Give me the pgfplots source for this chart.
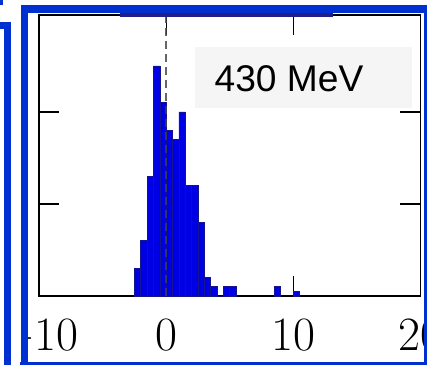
\documentclass[border=0pt]{standalone}
\usepackage{fontspec}
\usepackage{pgfplots}
\pgfplotsset{compat=1.18}
\newfontfamily\arialfont{Liberation Sans}
\definecolor{frameblue}{RGB}{0,48,208}
\definecolor{histblue}{RGB}{0,0,228}
\definecolor{histedge}{RGB}{20,20,140}
\definecolor{navyband}{RGB}{30,30,140}
\begin{document}
\begin{tikzpicture}[x=1bp,y=1bp]
\useasboundingbox (0,0) rectangle (427,365);
\clip (0,0) rectangle (427,365);
\begin{scope}
\clip (28,3) rectangle (424,352.3);
\begin{axis}[
  at={(39bp,69bp)}, anchor=south west,
  scale only axis, width=381.5bp, height=281bp,
  xmin=-10, xmax=20, ymin=0, ymax=30.54,
  xtick={-10,0,10,20}, xticklabels={−10,0,10,20},
  ytick={10,20}, yticklabels={},
  tick align=inside, major tick length=20bp,
  tick style={black, line width=1.3bp},
  axis line style={black, line width=1.3bp},
  xticklabel style={font=\fontsize{48}{50}\selectfont, anchor=base, yshift=-54bp},
]
\addplot[ybar interval, fill=histblue, draw=histedge, line width=0.6bp] coordinates {
(-2.5,3) (-2,6) (-1.5,13) (-1,25) (-0.5,21) (0,18) (0.5,17) (1,20) (1.5,12) (2,12) (2.5,8) (3,2) (3.5,1) (4,0) (4.5,1) (5,1) (5.5,0)};
\addplot[ybar interval, fill=histblue, draw=histedge, line width=0.6bp] coordinates {(8.5,1) (9,0)};
\addplot[ybar interval, fill=histblue, draw=histedge, line width=0.6bp] coordinates {(10,0.5) (10.5,0)};
\draw[black!75, opacity=0.8, dash pattern=on 8bp off 5bp, line width=1.4bp] (axis cs:0,0) -- (axis cs:0,30.54);
\end{axis}
\end{scope}
% label box
\fill[black!4] (195,257) rectangle (412,318);
\node[font=\arialfont\fontsize{37.3}{40}\selectfont, inner sep=0pt] at (289,286.7) {430 MeV};
% navy band at top
\fill[navyband] (120,348.3) rectangle (333,352.3);
% frames
\draw[frameblue, line width=7.5, line join=miter] (24.4,-5) -- (24.4,356.15) -- (431,356.15);
\draw[frameblue, line width=7.5] (427.75,356) -- (427.75,-5);
\draw[frameblue, line width=7.5] (20,-0.5) -- (431,-0.5);
\draw[frameblue, line width=7.5, line join=miter] (-5,339.5) -- (7.5,339.5) -- (7.5,-5);
\fill[frameblue] (0,360) rectangle (3.5,365);
\end{tikzpicture}
\end{document}
